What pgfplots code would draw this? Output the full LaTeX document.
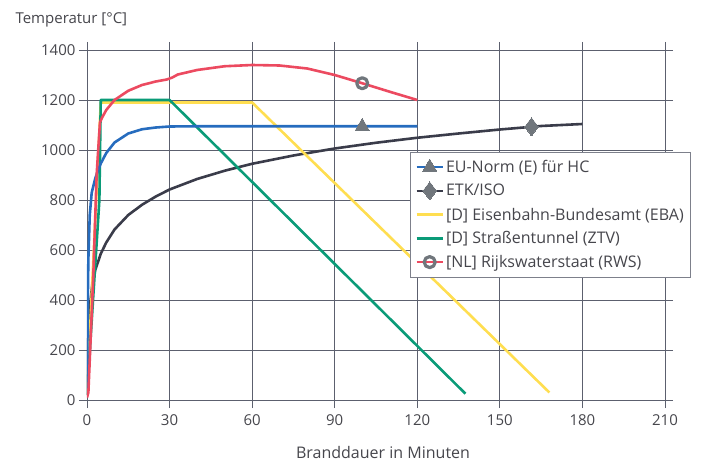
\documentclass[border=0pt]{standalone}
\usepackage{pgfplots}
\pgfplotsset{compat=1.18}
\usepackage{fontspec}
\setmainfont{Open Sans}

\definecolor{gridgray}{RGB}{92,96,110}
\definecolor{labelgray}{RGB}{70,70,76}
\definecolor{markgray}{RGB}{112,118,124}
\definecolor{hcblue}{RGB}{38,108,190}
\definecolor{etkdark}{RGB}{58,60,74}
\definecolor{ebayellow}{RGB}{255,222,80}
\definecolor{ztvgreen}{RGB}{10,155,120}
\definecolor{rwsred}{RGB}{236,74,96}

\begin{document}
\begin{tikzpicture}[x=1pt,y=1pt]
\useasboundingbox (-87,-64) rectangle (614,400);
\begin{axis}[
  width=578pt, height=350pt, scale only axis,
  xmin=0, xmax=210, ymin=0, ymax=1400,
  xtick={0,30,...,210}, ytick={0,200,...,1400},
  grid=major,
  major grid style={gridgray, line width=0.9pt},
  axis line style={gridgray, line width=0.9pt},
  tick align=outside, major tick length=8pt,
  tick style={gridgray, line width=0.9pt},
  ticklabel style={font=\fontsize{15}{16}\selectfont, text=labelgray},
  xticklabel style={yshift=-3pt},
  /pgf/number format/assume math mode=true,
  /pgf/number format/1000 sep={},
  legend style={at={(0.559,0.709)}, anchor=north west,
    draw=gridgray!80, line width=0.6pt, fill=white,
    font=\fontsize{16}{18}\selectfont, text=labelgray,
    inner xsep=5pt, inner ysep=6pt, row sep=6pt},
  legend cell align=left,
  legend image code/.code={
    \draw[mark repeat=2, mark phase=2, #1]
      plot coordinates {(0pt,0pt) (13pt,0pt) (26pt,0pt)};},
  every axis plot/.append style={line width=2.6pt, line join=round},
]
% temperature-time curves
\addplot[etkdark, forget plot] coordinates {
  (0,20) (0.5,261) (1,370) (2,470) (3,520) (5,585) (7,630) (10,682)
  (15,740) (20,781) (25,814) (30,842) (40,884) (50,917) (60,945)
  (75,978) (90,1006) (105,1029) (120,1049) (135,1066) (150,1082)
  (165,1096) (180,1104)};
\addplot[ebayellow, forget plot] coordinates {
  (0,20) (5,1190) (60,1190) (168,30)};
\addplot[ztvgreen, forget plot] coordinates {
  (0,20) (4.5,800) (5,1200) (30,1200) (137.5,25)};
\addplot[hcblue, forget plot] coordinates {
  (0,20) (0.25,370) (0.5,565) (1,740) (1.7,828) (2,842) (3,886) (4,918)
  (5,946) (7,988) (10,1030) (15,1066) (20,1083) (25,1090) (30,1094)
  (40,1095) (120,1095)};
\addplot[rwsred, forget plot] coordinates {
  (0,10) (0.5,30) (2.3,500) (3.5,900) (4.7,1110) (5.5,1130) (7,1160)
  (10,1200) (15,1237) (20,1260) (25,1274) (29,1282) (31,1290) (33,1302)
  (40,1320) (50,1335) (60,1340) (70,1338) (80,1326) (90,1300)
  (100,1267) (110,1233) (120,1200)};
% single identification marks on the curves
\addplot[only marks, mark=triangle*, mark size=8pt,
  mark options={fill=markgray, draw=markgray, line width=0pt}, forget plot]
  coordinates {(100,1095)};
\addplot[only marks, mark=diamond*, mark size=9pt,
  mark options={fill=markgray, draw=markgray, line width=0pt}, forget plot]
  coordinates {(161.5,1093)};
\addplot[only marks, mark=o, mark size=5.5pt,
  mark options={draw=markgray, line width=3.2pt, fill=none}, forget plot]
  coordinates {(100,1267)};
% legend
\addlegendimage{hcblue, line width=2.6pt, mark=triangle*, mark size=8pt,
  mark options={fill=markgray, draw=markgray, line width=0pt}}
\addlegendentry{EU-Norm (E) für HC}
\addlegendimage{etkdark, line width=2.6pt, mark=diamond*, mark size=9pt,
  mark options={fill=markgray, draw=markgray, line width=0pt}}
\addlegendentry{ETK/ISO}
\addlegendimage{ebayellow, line width=2.6pt}
\addlegendentry{[D] Eisenbahn-Bundesamt (EBA)}
\addlegendimage{ztvgreen, line width=2.6pt}
\addlegendentry{[D] Straßentunnel (ZTV)}
\addlegendimage{rwsred, line width=2.6pt, mark=o, mark size=5.5pt,
  mark options={draw=markgray, line width=3.2pt, fill=none}}
\addlegendentry{[NL] Rijkswaterstaat (RWS)}
\end{axis}
\node[anchor=west, font=\fontsize{15}{17}\selectfont, text=labelgray]
  at (-75,380) {Temperatur [°C]};
\node[font=\fontsize{16}{18}\selectfont, text=labelgray]
  at (296,-52) {Branddauer in Minuten};
\end{tikzpicture}
\end{document}
